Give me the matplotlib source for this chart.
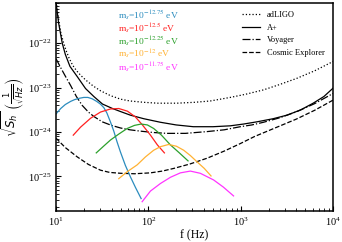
import numpy as np
import matplotlib
matplotlib.use("Agg")
import matplotlib.pyplot as plt
from matplotlib.ticker import LogLocator, NullFormatter

# %% Data (log10 values)

# detector noise curves: log10 f, log10 sqrt(S_h)
adligo_logf = [1.0, 1.03, 1.052, 1.08, 1.106, 1.14, 1.178, 1.222, 1.27, 1.322, 1.40, 1.481, 1.589, 1.70,
               1.80, 1.949, 2.10, 2.31, 2.50, 2.67, 2.886, 3.05, 3.246, 3.42, 3.607, 3.80, 4.0]
adligo_logh = [-21.0, -21.5, -21.77, -21.98, -22.15, -22.33, -22.49, -22.62, -22.73, -22.83, -22.96, -23.07, -23.18, -23.26,
               -23.30, -23.33, -23.35, -23.35, -23.33, -23.30, -23.22, -23.15, -23.05, -22.93, -22.79, -22.62, -22.41]

aplus_logf = [1.0, 1.027, 1.067, 1.10, 1.15, 1.229, 1.319, 1.409, 1.503, 1.611, 1.70, 1.805, 1.95, 2.13,
              2.30, 2.486, 2.70, 2.886, 3.03, 3.175, 3.35, 3.5, 3.65, 3.784, 3.90, 4.0]
aplus_logh = [-21.09, -21.54, -22.00, -22.25, -22.52, -22.75, -23.02, -23.20, -23.37, -23.47, -23.54, -23.62, -23.70, -23.78,
              -23.84, -23.88, -23.88, -23.86, -23.82, -23.77, -23.70, -23.62, -23.50, -23.35, -23.20, -23.01]

voyager_logf = [1.0, 1.05, 1.10, 1.157, 1.22, 1.283, 1.35, 1.409, 1.50, 1.60, 1.70, 1.80, 1.914, 2.05,
                2.2, 2.4, 2.635, 2.82, 2.995, 3.12, 3.246, 3.42, 3.607, 3.80, 4.0]
voyager_logh = [-22.35, -22.55, -22.74, -22.95, -23.20, -23.40, -23.55, -23.65, -23.77, -23.85, -23.91, -23.95, -23.98, -24.01,
                -24.03, -24.03, -23.99, -23.95, -23.88, -23.84, -23.78, -23.68, -23.54, -23.36, -23.13]

ce_logf = [1.0, 1.1, 1.229, 1.35, 1.481, 1.58, 1.70, 1.85, 2.022, 2.15, 2.274, 2.45, 2.635, 2.82,
           2.995, 3.15, 3.30, 3.45, 3.60, 3.80, 4.0]
ce_logh = [-24.14, -24.35, -24.56, -24.73, -24.86, -24.91, -24.93, -24.94, -24.92, -24.88, -24.82, -24.72, -24.59, -24.43,
           -24.26, -24.10, -23.97, -23.84, -23.71, -23.51, -23.28]

# signal curves for each scalar mass
blue_logf = [1.0, 1.05, 1.10, 1.157, 1.20, 1.25, 1.30, 1.344, 1.39, 1.44, 1.48, 1.517, 1.55, 1.59,
             1.625, 1.66, 1.697, 1.75, 1.805, 1.86, 1.921]
blue_logh = [-23.59, -23.47, -23.38, -23.31, -23.27, -23.24, -23.22, -23.22, -23.25, -23.31, -23.37, -23.45, -23.57, -23.78,
             -23.98, -24.22, -24.45, -24.75, -25.01, -25.25, -25.50]

red_logf = [1.186, 1.265, 1.373, 1.481, 1.589, 1.679, 1.773, 1.859, 1.935, 2.022, 2.097, 2.173]
red_logh = [-24.07, -23.89, -23.69, -23.55, -23.48, -23.47, -23.53, -23.66, -23.84, -24.07, -24.29, -24.47]

green_logf = [1.435, 1.514, 1.589, 1.676, 1.770, 1.849, 1.921, 1.989, 2.057, 2.141, 2.238, 2.335, 2.429]
green_logh = [-24.47, -24.32, -24.18, -24.05, -23.92, -23.85, -23.82, -23.84, -23.92, -24.07, -24.29, -24.47, -24.65]

orange_logf = [1.679, 1.773, 1.878, 1.968, 2.057, 2.130, 2.219, 2.303, 2.382, 2.454, 2.526, 2.605, 2.678]
orange_logh = [-25.05, -24.89, -24.74, -24.56, -24.41, -24.33, -24.28, -24.32, -24.41, -24.53, -24.67, -24.82, -24.99]

magenta_logf = [1.932, 2.022, 2.130, 2.238, 2.346, 2.454, 2.562, 2.706, 2.811, 2.922]
magenta_logh = [-25.57, -25.33, -25.16, -25.02, -24.92, -24.88, -24.93, -25.08, -25.24, -25.44]

mass_labels = ["-12.75", "-12.5", "-12.25", "-12", "-11.75"]
mass_colors = ["#2b8cbe", "#ff2020", "#2ca02c", "#ffb233", "#ff33ff"]

x_ticks = [1e1, 1e2, 1e3, 1e4]
y_ticks = [1e-25, 1e-24, 1e-23, 1e-22]

# %% Plot

plt.rcParams["font.family"] = ["Liberation Serif", "DejaVu Serif"]
plt.rcParams["mathtext.fontset"] = "stix"

fig = plt.figure(figsize=(3.42, 2.42), dpi=100)
ax = fig.add_axes([0.164, 0.128, 0.810, 0.860])

detectors = [
    (adligo_logf, adligo_logh, ":", "adLIGO"),
    (aplus_logf, aplus_logh, "-", "A+"),
    (voyager_logf, voyager_logh, "-.", "Voyager"),
    (ce_logf, ce_logh, "--", "Cosmic Explorer"),
]
for lf, lh, ls, name in detectors:
    ax.plot(10 ** np.array(lf), 10 ** np.array(lh), ls=ls, color="black", lw=0.9, label=name)

signals = [
    (blue_logf, blue_logh),
    (red_logf, red_logh),
    (green_logf, green_logh),
    (orange_logf, orange_logh),
    (magenta_logf, magenta_logh),
]
for (lf, lh), c in zip(signals, mass_colors):
    ax.plot(10 ** np.array(lf), 10 ** np.array(lh), color=c, lw=0.9)

for i, (m, c) in enumerate(zip(mass_labels, mass_colors)):
    ax.text(0.224, 0.942 - i * 0.0635, r"m$_s$=10$^{%s}$ eV" % m, color=c,
            fontsize=6.8, transform=ax.transAxes, va="center", ha="left")

ax.set_xscale("log")
ax.set_yscale("log")
ax.set_xlim(10, 1e4)
ax.set_ylim(10 ** -25.78, 10 ** -21.09)
ax.set_xticks(x_ticks)
ax.set_yticks(y_ticks)
for axis in (ax.xaxis, ax.yaxis):
    axis.set_minor_locator(LogLocator(base=10, subs=np.arange(2, 10), numticks=20))
    axis.set_minor_formatter(NullFormatter())

ax.tick_params(which="both", direction="in", labelsize=7.5)
ax.tick_params(which="minor", length=2)
for s in ax.spines.values():
    s.set_linewidth(1.1)

ax.set_xlabel("f (Hz)", fontsize=8.5, labelpad=1)
ax.set_ylabel(r"$\sqrt{S_h}\ \left(\frac{1}{\sqrt{Hz}}\right)$", fontsize=8.5,
              math_fontfamily="dejavusans", labelpad=1)

ax.legend(loc="upper right", frameon=False, fontsize=6, handlelength=2.2,
          labelspacing=0.55, borderaxespad=0.6)

fig.savefig("out.png", dpi=100)
